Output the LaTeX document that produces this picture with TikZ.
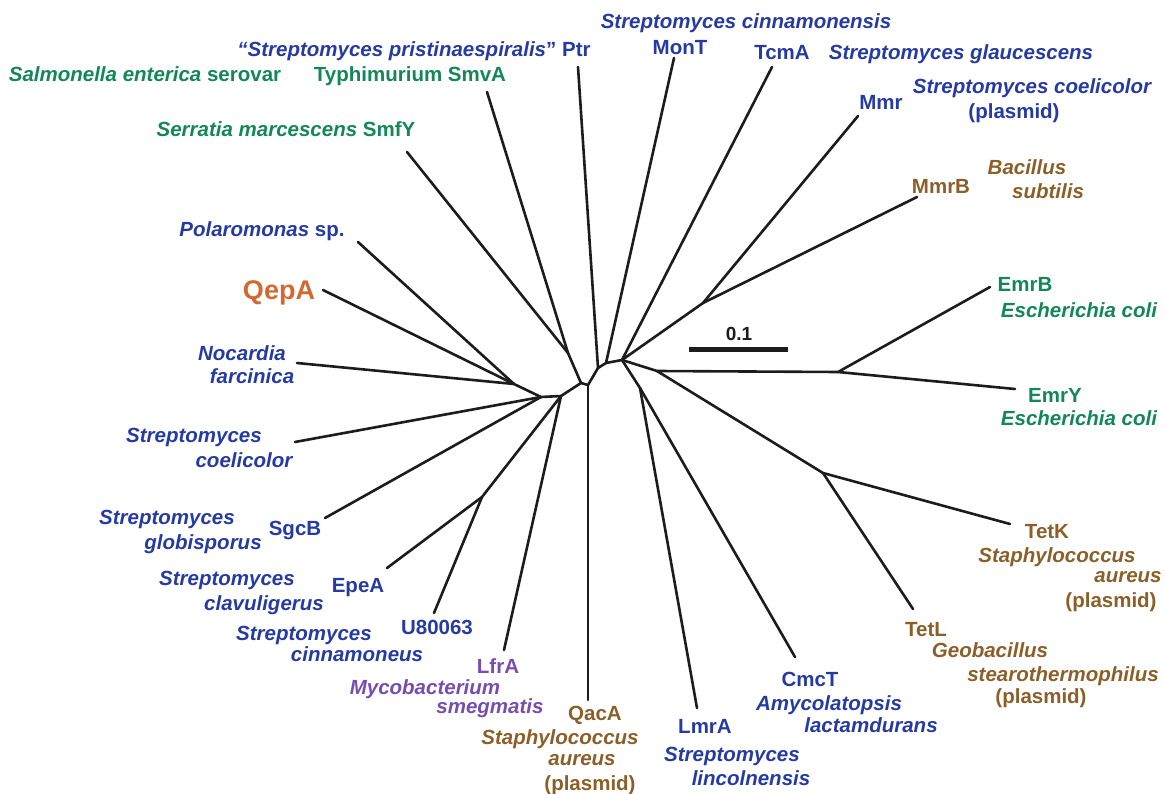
\documentclass[tikz,border=0pt]{standalone}
\usepackage{fontspec}
\setmainfont{Liberation Sans}
\definecolor{cblue}{RGB}{38,58,165}
\definecolor{cgreen}{RGB}{18,135,88}
\definecolor{cbrown}{RGB}{140,95,40}
\definecolor{cpurple}{RGB}{118,78,178}
\definecolor{corange}{RGB}{212,105,48}
\definecolor{linec}{RGB}{28,28,28}
\begin{document}
\begin{tikzpicture}[x=1pt,y=-1pt,
  br/.style={line width=2.6pt,draw=linec,line cap=round,line join=round},
  lab/.style={anchor=base,inner sep=0pt,font=\bfseries\fontsize{20.5}{24}\selectfont},
  blu/.style={lab,text=cblue},
  grn/.style={lab,text=cgreen},
  brn/.style={lab,text=cbrown},
  pur/.style={lab,text=cpurple}]
\useasboundingbox (0,0) rectangle (1165,794);
% internal nodes
\coordinate (C0) at (588,385);
\coordinate (A) at (581,383);
\coordinate (B) at (568,353);
\coordinate (M) at (561,396);
\coordinate (N) at (541,397);
\coordinate (P) at (514,384);
\coordinate (Q) at (482,497);
\coordinate (D) at (598,368);
\coordinate (E) at (606,363);
\coordinate (F) at (622,360);
\coordinate (G) at (703,303);
\coordinate (J) at (657,371);
\coordinate (K) at (838,372);
\coordinate (L) at (823,473);
\coordinate (I) at (640,388);
% leaf ends
\coordinate (lSmfY) at (407,152);
\coordinate (lSmvA) at (487,92);
\coordinate (lPtr) at (578,67);
\coordinate (lMonT) at (674,58);
\coordinate (lTcmA) at (772,67);
\coordinate (lMmr) at (858,116);
\coordinate (lMmrB) at (917,197);
\coordinate (lEmrB) at (990,287);
\coordinate (lEmrY) at (1015,389);
\coordinate (lTetK) at (1010,524);
\coordinate (lTetL) at (913,609);
\coordinate (lCmcT) at (795,657);
\coordinate (lLmrA) at (697,708);
\coordinate (lQacA) at (588,700);
\coordinate (lLfrA) at (504,650);
\coordinate (lU8) at (434,613);
\coordinate (lEpeA) at (387,568);
\coordinate (lSgcB) at (325,518);
\coordinate (lScoel) at (295,442);
\coordinate (lNoc) at (297,363);
\coordinate (lQepA) at (323,290);
\coordinate (lPol) at (358,242);
% branches
\draw[br] (C0) -- (A) -- (B) -- (lSmfY);
\draw[br] (B) -- (lSmvA);
\draw[br] (A) -- (M) -- (N) -- (P) -- (lQepA);
\draw[br] (P) -- (lPol);
\draw[br] (P) -- (lNoc);
\draw[br] (N) -- (lScoel);
\draw[br] (N) -- (lSgcB);
\draw[br] (M) -- (Q) -- (lEpeA);
\draw[br] (Q) -- (lU8);
\draw[br] (M) -- (lLfrA);
\draw[br] (C0) -- (lQacA);
\draw[br] (C0) -- (D) -- (lPtr);
\draw[br] (D) -- (E) -- (lMonT);
\draw[br] (E) -- (F) -- (lTcmA);
\draw[br] (F) -- (G) -- (lMmr);
\draw[br] (G) -- (lMmrB);
\draw[br] (F) -- (J) -- (K) -- (lEmrB);
\draw[br] (K) -- (lEmrY);
\draw[br] (J) -- (L) -- (lTetK);
\draw[br] (L) -- (lTetL);
\draw[br] (F) -- (I) -- (lLmrA);
\draw[br] (I) -- (lCmcT);
% scale bar
\coordinate (sb1) at (689,350);
\coordinate (sb2) at (788,350);
\draw[line width=5pt,draw=linec] (sb1) -- (sb2);
\node[lab,text=linec,font=\bfseries\fontsize{19}{22}\selectfont] (sbl) at (739,341) {0.1};
% labels
\node[blu] (t1) at (746,29) {\itshape Streptomyces cinnamonensis};
\node[blu] (t2) at (680,55) {MonT};
\node[blu] (t3) at (414,57) {\textit{\char"201CStreptomyces pristinaespiralis}\char"201D\ Ptr};
\node[blu] (t4) at (782,60) {TcmA};
\node[blu] (t5) at (961,60) {\itshape Streptomyces glaucescens};
\node[grn] (t6) at (145,82) {\textit{Salmonella enterica} serovar};
\node[grn] (t7) at (410,82) {Typhimurium SmvA};
\node[blu] (t8) at (1032,94) {\itshape Streptomyces coelicolor};
\node[blu] (t9) at (1014,119) {(plasmid)};
\node[blu] (t10) at (881,110) {Mmr};
\node[brn] (t11) at (941,194) {MmrB};
\node[brn] (t12) at (1027,175) {\itshape Bacillus};
\node[brn] (t13) at (1048,199) {\itshape subtilis};
\node[grn] (t14) at (286,137) {\textit{Serratia marcescens} SmfY};
\node[blu] (t15) at (262,237) {\textit{Polaromonas} sp.};
\node[lab,text=corange,font=\bfseries\fontsize{27}{30}\selectfont] (t16) at (279,300) {QepA};
\node[blu] (t17) at (242,360) {\itshape Nocardia};
\node[blu] (t18) at (252,384) {\itshape farcinica};
\node[blu] (t19) at (194,442) {\itshape Streptomyces};
\node[blu] (t20) at (244,467) {\itshape coelicolor};
\node[blu] (t21) at (167,524) {\itshape Streptomyces};
\node[blu] (t22) at (203,549) {\itshape globisporus};
\node[blu] (t23) at (295,535) {SgcB};
\node[blu] (t24) at (227,585) {\itshape Streptomyces};
\node[blu] (t25) at (264,610) {\itshape clavuligerus};
\node[blu] (t26) at (358,592) {EpeA};
\node[blu] (t27) at (304,640) {\itshape Streptomyces};
\node[blu] (t28) at (357,661) {\itshape cinnamoneus};
\node[blu] (t29) at (437,634) {U80063};
\node[pur] (t30) at (498,673) {LfrA};
\node[pur] (t31) at (425,694) {\itshape Mycobacterium};
\node[pur] (t32) at (490,713) {\itshape smegmatis};
\node[brn] (t33) at (595,720) {QacA};
\node[brn] (t34) at (560,744) {\itshape Staphylococcus};
\node[brn] (t35) at (582,765) {\itshape aureus};
\node[brn] (t36) at (590,790) {(plasmid)};
\node[blu] (t37) at (705,733) {LmrA};
\node[blu] (t38) at (732,761) {\itshape Streptomyces};
\node[blu] (t39) at (751,785) {\itshape lincolnensis};
\node[blu] (t40) at (810,686) {CmcT};
\node[blu] (t41) at (829,710) {\itshape Amycolatopsis};
\node[blu] (t42) at (871,732) {\itshape lactamdurans};
\node[grn] (t43) at (1025,292) {EmrB};
\node[grn] (t44) at (1079,318) {\itshape Escherichia coli};
\node[grn] (t45) at (1055,402) {EmrY};
\node[grn] (t46) at (1079,425) {\itshape Escherichia coli};
\node[brn] (t47) at (1047,538) {TetK};
\node[brn] (t48) at (1057,562) {\itshape Staphylococcus};
\node[brn] (t49) at (1128,582) {\itshape aureus};
\node[brn] (t50) at (1111,607) {(plasmid)};
\node[brn] (t51) at (926,636) {TetL};
\node[brn] (t52) at (990,657) {\itshape Geobacillus};
\node[brn] (t53) at (1063,681) {\itshape stearothermophilus};
\node[brn] (t54) at (1041,703) {(plasmid)};
\end{tikzpicture}
\end{document}
